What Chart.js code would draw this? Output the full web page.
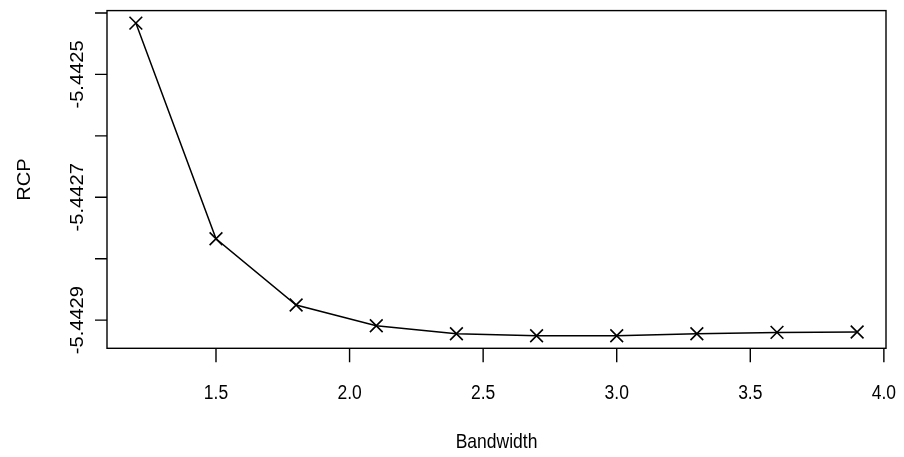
<!DOCTYPE html>
<html>
<head>
<meta charset="utf-8">
<script src="https://cdn.jsdelivr.net/npm/chart.js@4/dist/chart.umd.min.js"></script>
<style>
html,body{margin:0;padding:0;background:#fff;}
#wrap{width:904px;height:457px;position:relative;}
</style>
</head>
<body>
<div id="wrap"><canvas id="c" width="904" height="457"></canvas></div>
<script>
// ---- data ----
const bandwidth = [1.2, 1.5, 1.8, 2.1, 2.4, 2.7, 3.0, 3.3, 3.6, 3.9];
const rcp = [-5.4424165, -5.4427675, -5.4428753, -5.4429092, -5.4429221, -5.4429254, -5.4429255, -5.4429221, -5.4429200, -5.4429194];
const xTicks = [1.5, 2.0, 2.5, 3.0, 3.5, 4.0];
const xTickLabels = ['1.5', '2.0', '2.5', '3.0', '3.5', '4.0'];
const yTicks = [-5.4424, -5.4425, -5.4426, -5.4427, -5.4428, -5.4429];
const yTickLabels = ['', '-5.4425', '', '-5.4427', '', '-5.4429'];
const xTitle = 'Bandwidth';
const yTitle = 'RCP';

// R-style 4% axis extension
function ext(arr){const mn=Math.min(...arr),mx=Math.max(...arr),r=mx-mn;return [mn-0.04*r,mx+0.04*r];}
const [xMin,xMax]=ext(bandwidth);
const [yMin,yMax]=ext(rcp);

const FONT = '"Liberation Sans", Arial, sans-serif';
const FS = 17.5, KY = 1.15;

function txt(ctx, s, x, y, align, rot){
  ctx.save();
  ctx.translate(x,y);
  ctx.scale(1,KY);
  if(rot) ctx.rotate(-Math.PI/2);
  ctx.font = FS+'px '+FONT;
  ctx.fillStyle='#000';
  ctx.textAlign=align||'center';
  ctx.textBaseline='alphabetic';
  ctx.fillText(s,0,0);
  ctx.restore();
}

const rAxes = {
  id:'rAxes',
  afterDraw(chart){
    const ctx=chart.ctx, a=chart.chartArea, xs=chart.scales.x, ys=chart.scales.y;
    ctx.save();
    ctx.strokeStyle='#000';
    ctx.lineWidth=1.4;
    ctx.strokeRect(a.left,a.top,a.right-a.left,a.bottom-a.top);
    ctx.beginPath();
    xTicks.forEach(v=>{const p=xs.getPixelForValue(v);ctx.moveTo(p,a.bottom);ctx.lineTo(p,a.bottom+14);});
    yTicks.forEach(v=>{const p=ys.getPixelForValue(v);ctx.moveTo(a.left,p);ctx.lineTo(a.left-12,p);});
    ctx.stroke();
    ctx.restore();
    xTicks.forEach((v,i)=>{txt(ctx,xTickLabels[i],xs.getPixelForValue(v),399,'center',false);});
    yTicks.forEach((v,i)=>{if(yTickLabels[i]) txt(ctx,yTickLabels[i],83,ys.getPixelForValue(v),'center',true);});
    txt(ctx,xTitle,(a.left+a.right)/2,448,'center',false);
    txt(ctx,yTitle,30,(a.top+a.bottom)/2,'center',true);
  }
};

new Chart(document.getElementById('c'),{
  type:'line',
  data:{datasets:[{
    data:bandwidth.map((x,i)=>({x:x,y:rcp[i]})),
    borderColor:'#000',
    borderWidth:1.5,
    pointStyle:'crossRot',
    pointRadius:9,
    pointBorderWidth:1.6,
    pointBorderColor:'#000',
    pointBackgroundColor:'#000',
    tension:0,
    fill:false
  }]},
  options:{
    responsive:false,
    animation:false,
    layout:{padding:{left:107,right:18,top:9.5,bottom:108.7}},
    plugins:{legend:{display:false},tooltip:{enabled:false}},
    scales:{
      x:{type:'linear',min:xMin,max:xMax,display:false},
      y:{type:'linear',min:yMin,max:yMax,display:false}
    }
  },
  plugins:[rAxes]
});
</script>
</body>
</html>
